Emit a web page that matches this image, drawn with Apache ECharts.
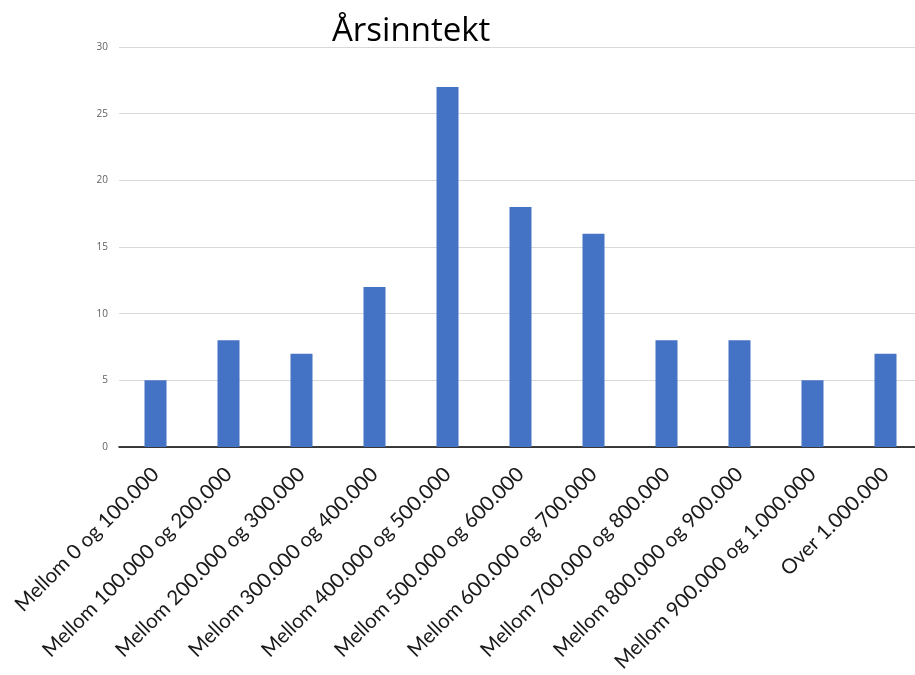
<!DOCTYPE html>
<html>
<head>
<meta charset="utf-8">
<script src="https://cdn.jsdelivr.net/npm/echarts@6/dist/echarts.min.js"></script>
<style>
  html, body { margin: 0; padding: 0; background: #fff; overflow: hidden; }
  /* the plot runs a few pixels past the visible window on the right */
  #chart { width: 922px; height: 675px; }
</style>
</head>
<body>
<div id="chart"></div>
<script>
// Income brackets (NOK) and number of respondents in each
const categories = [
  'Mellom 0 og 100.000',
  'Mellom 100.000 og 200.000',
  'Mellom 200.000 og 300.000',
  'Mellom 300.000 og 400.000',
  'Mellom 400.000 og 500.000',
  'Mellom 500.000 og 600.000',
  'Mellom 600.000 og 700.000',
  'Mellom 700.000 og 800.000',
  'Mellom 800.000 og 900.000',
  'Mellom 900.000 og 1.000.000',
  'Over 1.000.000'
];
const counts = [5, 8, 7, 12, 27, 18, 16, 8, 8, 5, 7];
const yTicks = { min: 0, max: 30, interval: 5 };

const chart = echarts.init(document.getElementById('chart'), null, { renderer: 'canvas' });
chart.setOption({
  animation: false,
  backgroundColor: '#ffffff',
  title: {
    text: 'Årsinntekt',
    left: 327,
    top: 10,
    textStyle: { fontFamily: 'Open Sans', fontSize: 33, fontWeight: 'normal', color: '#000' }
  },
  grid: { left: 119, top: 47, right: 0, bottom: 228, containLabel: false },
  xAxis: {
    type: 'category',
    data: categories,
    axisLine: { show: true, lineStyle: { color: '#000', width: 1.5 } },
    axisTick: { show: false },
    axisLabel: {
      interval: 0,
      rotate: 45,
      margin: 24,
      fontFamily: 'Lato',
      fontSize: 20.5,
      color: '#1a1a1a'
    }
  },
  yAxis: {
    type: 'value',
    min: yTicks.min,
    max: yTicks.max,
    interval: yTicks.interval,
    axisLine: { show: false },
    axisTick: { show: false },
    axisLabel: { fontFamily: 'Open Sans', fontSize: 10, color: '#5f5f5f', margin: 11 },
    splitLine: { lineStyle: { color: '#d9d9d9', width: 1 } }
  },
  series: [{
    type: 'bar',
    data: counts,
    barWidth: 22,
    itemStyle: { color: '#4472c4' }
  }]
});
</script>
</body>
</html>
